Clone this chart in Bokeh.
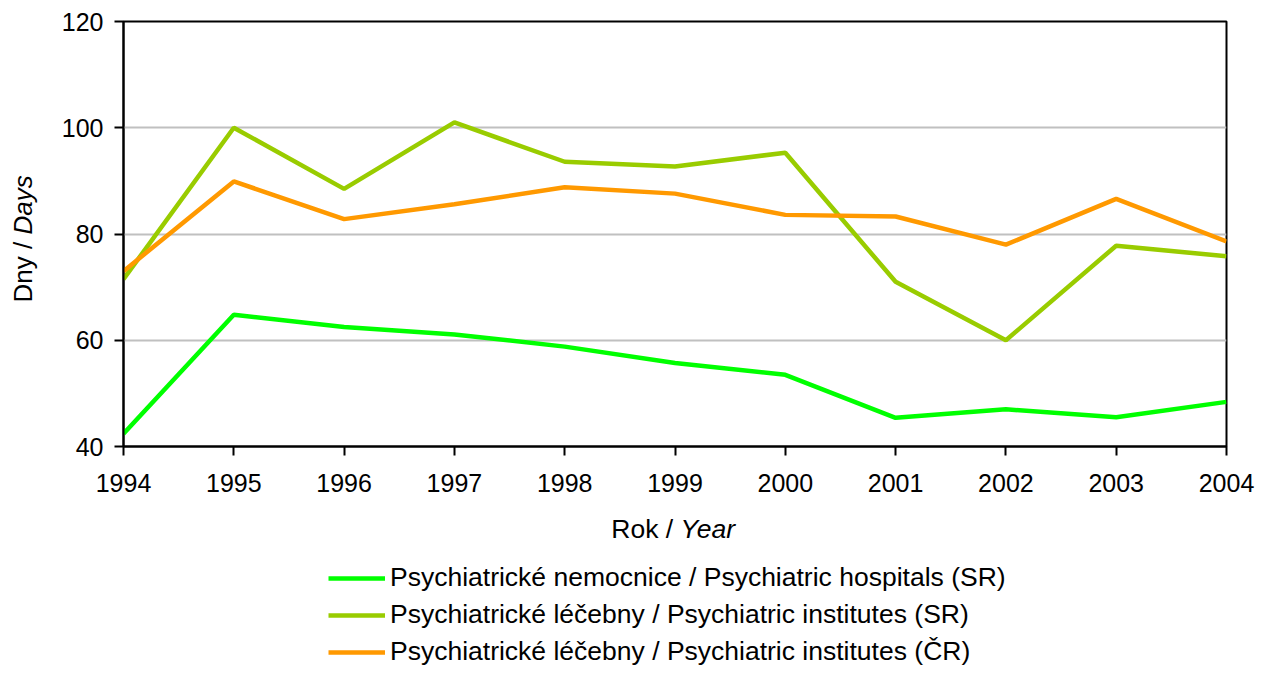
import numpy as np
from bokeh.plotting import figure
from bokeh.layouts import column, row
from bokeh.models import Range1d, FixedTicker, Legend, LegendItem, Label
from bokeh.embed import file_html
from bokeh.resources import INLINE

years = [1994, 1995, 1996, 1997, 1998, 1999, 2000, 2001, 2002, 2003, 2004]
hospitals_sr = [42.4, 64.8, 62.5, 61.1, 58.8, 55.7, 53.5, 45.4, 47.0, 45.5, 48.4]
institutes_sr = [71.5, 100.0, 88.5, 101.0, 93.6, 92.7, 95.3, 71.0, 60.0, 77.8, 75.8]
institutes_cr = [73.0, 89.9, 82.8, 85.6, 88.8, 87.6, 83.6, 83.3, 78.0, 86.6, 78.6]

series_names = [
    "Psychiatrické nemocnice / Psychiatric hospitals (SR)",
    "Psychiatrické léčebny / Psychiatric institutes (SR)",
    "Psychiatrické léčebny / Psychiatric institutes (ČR)",
]
series_colors = ["#00FF00", "#99CC00", "#FF9900"]
y_ticks = [40, 60, 80, 100, 120]

FONT = "Liberation Sans"
LW = 4.5

W, H = 1267, 675
LEFT_W = 45
MAIN_H = 500
BOTTOM_H = H - MAIN_H


def blank(width, height):
    f = figure(width=width, height=height, output_backend="svg", toolbar_location=None,
               x_range=Range1d(0, 1), y_range=Range1d(0, 1),
               min_border=0, min_border_left=0, min_border_right=0,
               min_border_top=0, min_border_bottom=0)
    f.axis.visible = False
    f.grid.grid_line_color = None
    f.outline_line_color = None
    return f


# ---- main plot ----
p = figure(width=W - LEFT_W, height=MAIN_H, output_backend="svg", toolbar_location=None,
           x_range=Range1d(1994, 2004), y_range=Range1d(40, 120),
           min_border_left=123 - LEFT_W, min_border_right=41, min_border_top=21,
           min_border_bottom=MAIN_H - 446)

p.outline_line_color = "black"
p.outline_line_width = 2
p.xgrid.grid_line_color = None
p.ygrid.grid_line_color = "#C0C0C0"
p.ygrid.grid_line_width = 2

p.xaxis.ticker = FixedTicker(ticks=years)
p.yaxis.ticker = FixedTicker(ticks=y_ticks)
for ax in (p.xaxis, p.yaxis):
    ax.axis_line_color = "black"
    ax.axis_line_width = 2
    ax.major_tick_line_color = "black"
    ax.major_tick_line_width = 2
    ax.major_tick_out = 9
    ax.major_tick_in = 0
    ax.minor_tick_line_color = None
    ax.major_label_text_font = FONT
    ax.major_label_text_font_size = "25px"
    ax.major_label_text_color = "black"
p.xaxis.major_label_standoff = 18
p.yaxis.major_label_standoff = 11

for vals, col in zip([hospitals_sr, institutes_sr, institutes_cr], series_colors):
    p.line(years, vals, line_color=col, line_width=LW)

# ---- left strip with y title ----
pl = blank(LEFT_W, MAIN_H)
split_y = 212
pl.add_layout(Label(x=22, y=split_y, x_units="screen", y_units="screen", text="Dny / ",
                    angle=np.pi / 2, text_align="right", text_baseline="middle", text_font=FONT,
                    text_font_size="26px", text_color="black"))
pl.add_layout(Label(x=22, y=split_y, x_units="screen", y_units="screen", text="Days",
                    angle=np.pi / 2, text_align="left", text_baseline="middle", text_font=FONT,
                    text_font_style="italic", text_font_size="26px", text_color="black"))

# ---- bottom strip with x title and legend ----
pb = blank(W, BOTTOM_H)
xl_y = BOTTOM_H - (528 - MAIN_H)
pb.add_layout(Label(x=680, y=xl_y, x_units="screen", y_units="screen", text="Rok / ",
                    text_align="right", text_baseline="middle", text_font=FONT,
                    text_font_size="26.5px", text_color="black"))
pb.add_layout(Label(x=680, y=xl_y, x_units="screen", y_units="screen", text="Year",
                    text_align="left", text_baseline="middle", text_font=FONT,
                    text_font_style="italic", text_font_size="26.5px", text_color="black"))

dummy = [pb.line(x=[np.nan], y=[np.nan], line_color=c, line_width=LW) for c in series_colors]
legend = Legend(items=[LegendItem(label=n, renderers=[r]) for n, r in zip(series_names, dummy)],
                location=(328, 8), orientation="vertical")
legend.label_text_font = FONT
legend.label_text_font_size = "26.5px"
legend.label_text_color = "black"
legend.glyph_width = 57
legend.glyph_height = 20
legend.label_height = 20
legend.label_standoff = 5
legend.spacing = 6
legend.padding = 0
legend.margin = 0
legend.border_line_color = None
legend.background_fill_alpha = 0
pb.add_layout(legend, "center")

layout = column(row(pl, p), pb)
open("out.html", "w").write(file_html(layout, INLINE))
